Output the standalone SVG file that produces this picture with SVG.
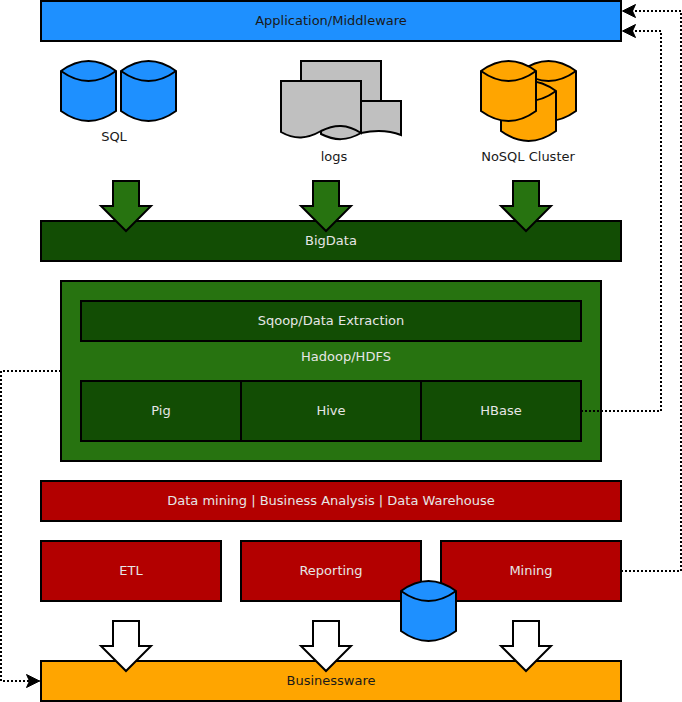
<svg xmlns="http://www.w3.org/2000/svg" xmlns:xlink="http://www.w3.org/1999/xlink" width="682" height="702" viewBox="0 0 682 702">
<style>
.s{stroke:#000;stroke-width:2;stroke-linejoin:miter}
.blue{fill:#1e90ff}.org{fill:#ffa500}.gray{fill:#c0c0c0}.grn{fill:#277310}.dk{fill:#124d04}.red{fill:#b30000}.wht{fill:#fff}
.none{fill:none}
text{font-family:"DejaVu Sans",sans-serif;font-size:13px;text-anchor:middle}
.l{fill:#e6e6e6}.d{fill:#1a1a1a}
.c{fill:none;stroke:#000;stroke-width:2;stroke-dasharray:2 2}
</style>
<defs>
<marker id="ah" markerUnits="userSpaceOnUse" markerWidth="18" markerHeight="18" refX="14" refY="9" orient="auto"><path d="M14 9 L1 2.500 L4 9 L1 15.500 Z" fill="#000" stroke="#000" stroke-width="1"/></marker>
<path id="arrow" d="M-13 0 H13 V25 H25 L0 50 L-25 25 H-13 Z"/>
<g id="cyl"><path d="M0 10 Q27.500 -10 55 10 V50 Q27.500 70 0 50 Z"/><path d="M0 10 Q27.500 30 55 10" fill="none"/></g>
</defs>
<g id="application"><rect class="s blue" x="41" y="1" width="580" height="40"/><text class="d" x="331" y="25">Application/Middleware</text></g>
<g id="sql">
<use href="#cyl" x="61" y="61" class="s blue"/><use href="#cyl" x="121" y="61" class="s blue"/>
<text class="d" x="114" y="141">SQL</text></g>
<g id="logs">
<path class="s gray" d="M301 61 H381 V125 H301 Z"/>
<path class="s gray" d="M321 101 H401 V135 C388 130 375 130 361 133 C347 141 335 141 321 134 Z"/>
<path class="s gray" d="M281 81 H361 V133 C347 124 335 124 321 131 C307 139 295 140 281 132 Z"/>
<text class="d" x="334" y="161">logs</text></g>
<g id="nosql">
<use href="#cyl" x="521" y="61" class="s org"/><use href="#cyl" x="501" y="81" class="s org"/><use href="#cyl" x="481" y="61" class="s org"/>
<text class="d" x="528" y="161">NoSQL Cluster</text></g>
<g id="bigdata"><rect class="s dk" x="41" y="221" width="580" height="40"/><text class="l" x="331" y="245">BigData</text></g>
<g id="arrow-sql"><use href="#arrow" x="126" y="181" class="s grn"/></g>
<g id="arrow-logs"><use href="#arrow" x="326" y="181" class="s grn"/></g>
<g id="arrow-nosql"><use href="#arrow" x="526" y="181" class="s grn"/></g>
<g id="hadoop"><rect class="s grn" x="61" y="281" width="540" height="180"/><text class="l" x="346" y="361">Hadoop/HDFS</text></g>
<g id="sqoop"><rect class="s dk" x="81" y="301" width="500" height="40"/><text class="l" x="331" y="325">Sqoop/Data Extraction</text></g>
<g id="pig"><rect class="s dk" x="81" y="381" width="160" height="60"/><text class="l" x="161" y="415">Pig</text></g>
<g id="hive"><rect class="s dk" x="241" y="381" width="180" height="60"/><text class="l" x="331" y="415">Hive</text></g>
<g id="hbase"><rect class="s dk" x="421" y="381" width="160" height="60"/><text class="l" x="501" y="415">HBase</text></g>
<g id="datamining"><rect class="s red" x="41" y="481" width="580" height="40"/><text class="l" x="331" y="505">Data mining | Business Analysis | Data Warehouse</text></g>
<g id="etl"><rect class="s red" x="41" y="541" width="180" height="60"/><text class="l" x="131" y="575">ETL</text></g>
<g id="reporting"><rect class="s red" x="241" y="541" width="180" height="60"/><text class="l" x="331" y="575">Reporting</text></g>
<g id="mining"><rect class="s red" x="441" y="541" width="180" height="60"/><text class="l" x="531" y="575">Mining</text></g>
<g id="businessware"><rect class="s org" x="41" y="661" width="580" height="40"/><text class="d" x="331" y="685">Businessware</text></g>
<g id="store"><use href="#cyl" x="401" y="581" class="s blue"/></g>
<g id="arrow-etl"><use href="#arrow" x="126" y="621" class="s wht"/></g>
<g id="arrow-reporting"><use href="#arrow" x="326" y="621" class="s wht"/></g>
<g id="arrow-mining"><use href="#arrow" x="526" y="621" class="s wht"/></g>
<g id="connectors">
<path class="c" d="M621 571 H681 V11 H622.500" marker-end="url(#ah)"/>
<path class="c" d="M581 411 H661 V31 H622.500" marker-end="url(#ah)"/>
<path class="c" d="M61 371 H1 V681 H39.500" marker-end="url(#ah)"/>
</g>
</svg>
